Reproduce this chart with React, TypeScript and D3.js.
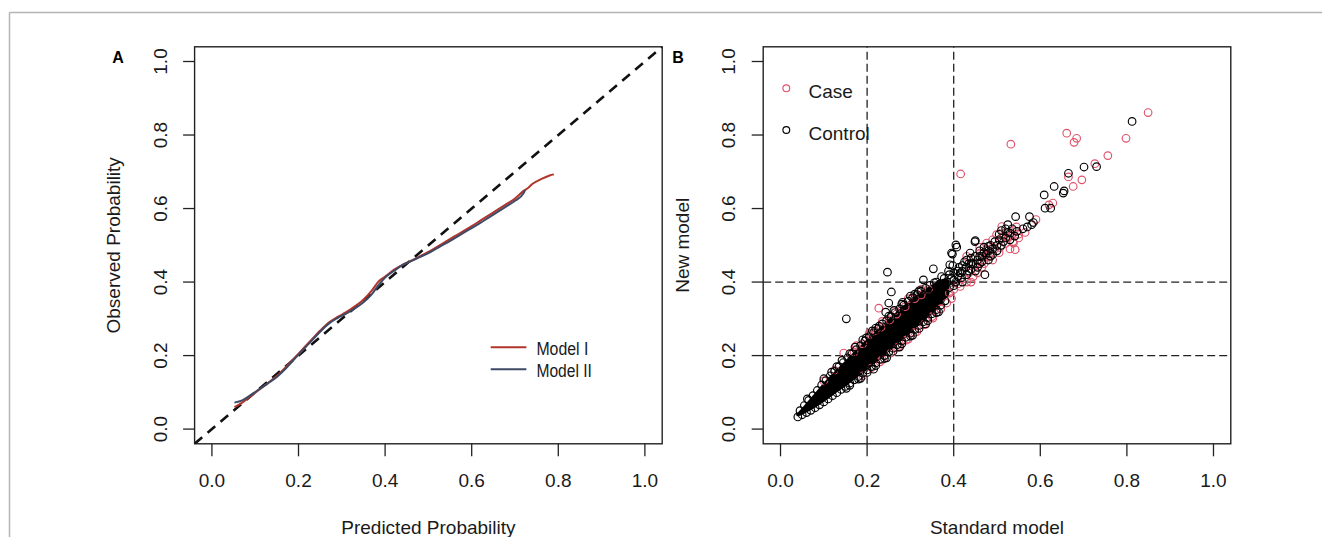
import React from "react";
import * as d3 from "d3";

// ---------- Panel A data (calibration curves) ----------
const modelIX = [0.052, 0.07, 0.09, 0.11, 0.13, 0.15, 0.17, 0.19, 0.21, 0.23, 0.25, 0.27, 0.29, 0.31, 0.33, 0.35, 0.37, 0.385, 0.40, 0.42, 0.44, 0.46, 0.48, 0.50, 0.52, 0.54, 0.56, 0.58, 0.60, 0.62, 0.64, 0.66, 0.68, 0.70, 0.72, 0.73, 0.74, 0.76, 0.78, 0.79];
const modelIY = [0.060, 0.072, 0.090, 0.108, 0.126, 0.145, 0.168, 0.193, 0.218, 0.243, 0.268, 0.290, 0.305, 0.318, 0.334, 0.352, 0.378, 0.402, 0.415, 0.433, 0.447, 0.458, 0.470, 0.482, 0.496, 0.510, 0.524, 0.538, 0.552, 0.567, 0.582, 0.597, 0.612, 0.627, 0.648, 0.656, 0.667, 0.680, 0.690, 0.693];
const modelIIX = [0.052, 0.07, 0.09, 0.11, 0.13, 0.15, 0.17, 0.19, 0.21, 0.23, 0.25, 0.27, 0.29, 0.31, 0.33, 0.35, 0.37, 0.385, 0.40, 0.42, 0.44, 0.46, 0.48, 0.50, 0.52, 0.54, 0.56, 0.58, 0.60, 0.62, 0.64, 0.66, 0.68, 0.70, 0.72, 0.723];
const modelIIY = [0.072, 0.078, 0.093, 0.109, 0.125, 0.142, 0.164, 0.190, 0.215, 0.240, 0.265, 0.287, 0.302, 0.314, 0.328, 0.345, 0.368, 0.392, 0.412, 0.430, 0.446, 0.457, 0.468, 0.479, 0.492, 0.505, 0.519, 0.533, 0.547, 0.561, 0.576, 0.591, 0.606, 0.621, 0.642, 0.650];

const tickValues = [0, 0.2, 0.4, 0.6, 0.8, 1.0];
const tickLabels = ["0.0", "0.2", "0.4", "0.6", "0.8", "1.0"];
const legendA = ["Model I", "Model II"];
const legendB = ["Case", "Control"];

// ---------- Panel B data (reclassification scatter) ----------
// dense, fully overlapping core of the point cloud (centre range per standard-model value)
const coreX = [0.036, 0.04, 0.06, 0.08, 0.10, 0.12, 0.14, 0.16, 0.18, 0.20, 0.22, 0.24, 0.26, 0.28, 0.30, 0.32, 0.34, 0.36, 0.38, 0.39];
const coreLo = [0.038, 0.035, 0.045, 0.058, 0.074, 0.091, 0.108, 0.125, 0.143, 0.161, 0.180, 0.200, 0.220, 0.240, 0.261, 0.282, 0.303, 0.325, 0.349, 0.370];
const coreHi = [0.040, 0.045, 0.072, 0.099, 0.127, 0.151, 0.175, 0.199, 0.222, 0.245, 0.267, 0.290, 0.311, 0.332, 0.352, 0.370, 0.386, 0.400, 0.410, 0.405];

const controlEdge: [number, number][] = [
  [0.045, 0.050], [0.055, 0.064], [0.065, 0.078], [0.075, 0.091], [0.085, 0.105], [0.095, 0.120], [0.105, 0.132], [0.115, 0.145], [0.125, 0.157], [0.135, 0.170], [0.145, 0.181], [0.155, 0.194], [0.165, 0.205], [0.175, 0.216], [0.185, 0.227], [0.195, 0.240], [0.205, 0.251], [0.215, 0.262], [0.225, 0.273], [0.235, 0.286], [0.245, 0.295], [0.255, 0.306], [0.265, 0.317], [0.275, 0.327], [0.285, 0.337], [0.295, 0.348], [0.305, 0.357], [0.315, 0.366], [0.325, 0.375], [0.335, 0.383], [0.345, 0.391], [0.355, 0.398],
  [0.040, 0.033], [0.050, 0.039], [0.060, 0.045], [0.070, 0.051], [0.080, 0.058], [0.090, 0.066], [0.100, 0.074], [0.110, 0.082], [0.120, 0.091], [0.130, 0.099], [0.140, 0.108], [0.150, 0.116], [0.160, 0.125], [0.170, 0.134], [0.180, 0.143], [0.190, 0.152], [0.200, 0.161], [0.210, 0.170], [0.220, 0.180], [0.230, 0.190], [0.240, 0.200], [0.250, 0.210], [0.260, 0.220], [0.270, 0.230], [0.280, 0.240], [0.290, 0.250], [0.300, 0.261], [0.310, 0.271], [0.320, 0.282], [0.330, 0.292], [0.340, 0.303], [0.350, 0.314], [0.360, 0.325], [0.370, 0.337], [0.380, 0.349],
  [0.062, 0.082], [0.118, 0.155], [0.142, 0.187], [0.172, 0.223], [0.198, 0.248], [0.212, 0.267], [0.228, 0.280], [0.262, 0.323], [0.282, 0.345], [0.300, 0.362], [0.318, 0.373], [0.152, 0.111], [0.185, 0.138], [0.215, 0.163], [0.245, 0.194], [0.275, 0.223], [0.305, 0.255], [0.335, 0.286], [0.365, 0.319],
  [0.160, 0.119], [0.180, 0.136], [0.200, 0.154], [0.220, 0.173], [0.240, 0.192], [0.260, 0.212], [0.280, 0.232], [0.300, 0.253], [0.320, 0.274], [0.340, 0.295], [0.360, 0.317],
  [0.100, 0.137], [0.130, 0.170], [0.160, 0.205], [0.190, 0.243], [0.220, 0.275], [0.250, 0.307], [0.280, 0.340], [0.310, 0.367],
];
const caseEdge: [number, number][] = [
  [0.146, 0.207], [0.227, 0.329], [0.190, 0.232], [0.205, 0.257], [0.218, 0.267], [0.232, 0.277], [0.252, 0.297], [0.268, 0.313], [0.288, 0.333], [0.310, 0.355], [0.325, 0.365], [0.342, 0.380], [0.255, 0.207], [0.275, 0.225], [0.295, 0.245], [0.315, 0.265], [0.335, 0.285], [0.352, 0.302], [0.370, 0.327], [0.384, 0.343], [0.395, 0.355], [0.415, 0.388], [0.430, 0.400], [0.445, 0.415], [0.210, 0.167], [0.235, 0.189], [0.170, 0.210], [0.125, 0.160], [0.100, 0.131],
  [0.190, 0.145], [0.230, 0.183], [0.270, 0.222], [0.290, 0.242], [0.310, 0.263], [0.330, 0.284], [0.350, 0.306], [0.370, 0.327],
  [0.175, 0.227], [0.205, 0.261], [0.235, 0.293], [0.265, 0.323], [0.295, 0.355], [0.325, 0.380],
];
const controlSparse: [number, number][] = [
  [0.353, 0.436], [0.391, 0.447], [0.397, 0.476], [0.407, 0.495], [0.438, 0.479], [0.450, 0.513], [0.395, 0.479], [0.405, 0.501], [0.449, 0.510], [0.472, 0.420], [0.330, 0.406], [0.321, 0.377], [0.360, 0.400], [0.372, 0.415], [0.380, 0.390], [0.390, 0.420], [0.400, 0.405], [0.410, 0.430], [0.418, 0.412], [0.420, 0.445], [0.430, 0.460], [0.435, 0.430], [0.440, 0.450], [0.455, 0.440], [0.460, 0.470], [0.465, 0.455], [0.470, 0.480], [0.480, 0.497], [0.485, 0.470], [0.490, 0.490], [0.500, 0.500], [0.505, 0.515], [0.510, 0.540], [0.520, 0.520], [0.530, 0.533], [0.541, 0.525], [0.546, 0.538], [0.525, 0.556], [0.543, 0.578], [0.575, 0.578], [0.584, 0.562], [0.580, 0.556], [0.560, 0.545], [0.570, 0.550], [0.609, 0.637], [0.611, 0.601], [0.624, 0.601], [0.632, 0.660], [0.653, 0.642], [0.655, 0.648], [0.665, 0.696], [0.701, 0.713], [0.730, 0.714], [0.812, 0.837], [0.247, 0.427], [0.256, 0.373], [0.250, 0.343], [0.243, 0.318], [0.152, 0.300],
  [0.360, 0.350], [0.365, 0.370], [0.370, 0.360], [0.375, 0.385], [0.380, 0.370], [0.385, 0.400], [0.390, 0.385], [0.395, 0.410], [0.400, 0.390], [0.400, 0.425], [0.405, 0.400], [0.410, 0.415], [0.412, 0.440], [0.415, 0.425], [0.420, 0.400], [0.420, 0.430], [0.425, 0.455], [0.428, 0.440], [0.430, 0.420], [0.435, 0.450], [0.440, 0.435], [0.440, 0.465], [0.445, 0.450], [0.450, 0.430], [0.450, 0.470], [0.455, 0.460], [0.460, 0.450], [0.460, 0.485], [0.465, 0.470], [0.470, 0.495], [0.475, 0.475], [0.480, 0.460], [0.480, 0.485], [0.485, 0.500], [0.490, 0.475], [0.495, 0.510], [0.500, 0.485], [0.505, 0.530], [0.510, 0.500], [0.515, 0.510], [0.520, 0.545], [0.525, 0.535], [0.530, 0.515], [0.535, 0.545], [0.355, 0.365], [0.345, 0.360], [0.368, 0.395], [0.378, 0.410], [0.388, 0.430], [0.398, 0.445],
];
const caseSparse: [number, number][] = [
  [0.511, 0.551], [0.499, 0.529], [0.538, 0.506], [0.542, 0.488], [0.476, 0.506], [0.461, 0.479], [0.515, 0.524], [0.525, 0.520], [0.484, 0.479], [0.507, 0.494], [0.537, 0.510], [0.470, 0.460], [0.456, 0.450], [0.520, 0.535], [0.530, 0.490], [0.550, 0.520], [0.565, 0.535], [0.590, 0.570], [0.629, 0.615], [0.676, 0.660], [0.696, 0.678], [0.665, 0.686], [0.726, 0.722], [0.756, 0.744], [0.798, 0.791], [0.849, 0.861], [0.661, 0.805], [0.684, 0.791], [0.678, 0.780], [0.532, 0.775], [0.416, 0.694], [0.620, 0.610], [0.490, 0.515],
  [0.390, 0.370], [0.400, 0.380], [0.410, 0.395], [0.425, 0.410], [0.435, 0.425], [0.440, 0.400], [0.450, 0.445], [0.455, 0.425], [0.465, 0.440], [0.470, 0.450], [0.480, 0.470], [0.490, 0.460], [0.495, 0.490], [0.505, 0.480], [0.510, 0.520], [0.520, 0.505], [0.530, 0.525], [0.540, 0.540], [0.545, 0.550], [0.550, 0.530], [0.430, 0.470], [0.460, 0.495], [0.475, 0.490],
];

const refLines = [0.2, 0.4];

const FONT = "'Liberation Sans', Arial, Helvetica, sans-serif";
const RED_LINE = "#B2352C";
const BLUE_LINE = "#3E4A66";
const CASE_COL = "#DF536B";

const DOMAIN: [number, number] = [-0.04, 1.04];
const yScale = d3.scaleLinear().domain(DOMAIN).range([443.8, 46.8]);
const xA = d3.scaleLinear().domain(DOMAIN).range([194.6, 662.2]);
const xB = d3.scaleLinear().domain(DOMAIN).range([763.2, 1230.8]);

function Axes({ x, title, ytitle, titleX }: { x: d3.ScaleLinear<number, number>; title: string; ytitle: string; titleX: number }) {
  const [x0, x1] = x.range();
  const [y0, y1] = yScale.range();
  return (
    <g fontFamily={FONT} fill="#1a1a1a">
      <rect x={x0} y={y1} width={x1 - x0} height={y0 - y1} fill="none" stroke="#222" strokeWidth={1.4} />
      {tickValues.map((t, i) => (
        <g key={"x" + i}>
          <line x1={x(t)} x2={x(t)} y1={y0} y2={y0 + 12.5} stroke="#222" strokeWidth={1.3} />
          <text x={x(t)} y={486.5} fontSize={19} textAnchor="middle">{tickLabels[i]}</text>
        </g>
      ))}
      {tickValues.map((t, i) => (
        <g key={"y" + i}>
          <line x1={x0 - 11.5} x2={x0} y1={yScale(t)} y2={yScale(t)} stroke="#222" strokeWidth={1.3} />
          <text transform={`translate(${x0 - 28},${yScale(t)}) rotate(-90)`} fontSize={19} textAnchor="middle">{tickLabels[i]}</text>
        </g>
      ))}
      <text x={(x0 + x1) / 2} y={533.5} fontSize={19} textAnchor="middle">{title}</text>
      <text transform={`translate(${titleX},${(y0 + y1) / 2}) rotate(-90)`} fontSize={19} textAnchor="middle">{ytitle}</text>
    </g>
  );
}

export default function App() {
  const line = (x: d3.ScaleLinear<number, number>) =>
    d3.line<[number, number]>().x((d) => x(d[0])).y((d) => yScale(d[1])).curve(d3.curveMonotoneX);
  const mI: [number, number][] = modelIX.map((v, i) => [v, modelIY[i]]);
  const mII: [number, number][] = modelIIX.map((v, i) => [v, modelIIY[i]]);
  const coreArea = d3
    .area<number>()
    .x((d, i) => xB(coreX[i]))
    .y0((d, i) => yScale(coreLo[i]))
    .y1((d, i) => yScale(coreHi[i]))
    .curve(d3.curveMonotoneX);
  const R = 3.8;
  const pts = (arr: [number, number][], col: string, key: string) =>
    arr.map((d, i) => (
      <circle key={key + i} cx={xB(d[0])} cy={yScale(d[1])} r={R} fill="none" stroke={col} strokeWidth={1.15} />
    ));
  const [bx0, bx1] = xB.range();
  const [by0, by1] = yScale.range();
  return (
    <svg width={1322} height={537} style={{ position: "absolute", left: 0, top: 0, background: "#fff" }}>
      <defs>
        <clipPath id="clipA"><rect x={xA.range()[0]} y={by1} width={xA.range()[1] - xA.range()[0]} height={by0 - by1} /></clipPath>
      </defs>
      {/* outer frame of the figure */}
      <line x1={9.5} x2={1322} y1={12.5} y2={12.5} stroke="#b4b4b4" strokeWidth={1.5} />
      <line x1={9.5} x2={9.5} y1={12.5} y2={537} stroke="#b4b4b4" strokeWidth={1.5} />

      {/* Panel A */}
      <Axes x={xA} title="Predicted Probability" ytitle="Observed Probability" titleX={120} />
      <g clipPath="url(#clipA)">
        <line x1={xA(-0.04)} y1={yScale(-0.04)} x2={xA(1.04)} y2={yScale(1.04)} stroke="#111" strokeWidth={2.6} strokeDasharray="10,7" />
      </g>
      <path d={line(xA)(mI) || ""} fill="none" stroke={RED_LINE} strokeWidth={2} />
      <path d={line(xA)(mII) || ""} fill="none" stroke={BLUE_LINE} strokeWidth={2} />
      <g fontFamily={FONT} fontSize={18} fill="#1a1a1a">
        <line x1={490.7} x2={526.4} y1={347.3} y2={347.3} stroke={RED_LINE} strokeWidth={2} />
        <line x1={490.7} x2={526.4} y1={369.3} y2={369.3} stroke={BLUE_LINE} strokeWidth={2} />
        <text x={536.4} y={355} textLength={52} lengthAdjust="spacingAndGlyphs">{legendA[0]}</text>
        <text x={536.4} y={377.3} textLength={55.5} lengthAdjust="spacingAndGlyphs">{legendA[1]}</text>
      </g>
      <text x={118} y={63.3} fontFamily={FONT} fontWeight="bold" fontSize={16} textAnchor="middle">A</text>

      {/* Panel B */}
      <Axes x={xB} title="Standard model" ytitle="New model" titleX={688.5} />
      {refLines.map((v, i) => (
        <g key={"ref" + i}>
          <line x1={xB(v)} x2={xB(v)} y1={by0} y2={by1} stroke="#222" strokeWidth={1.3} strokeDasharray="8,4" />
          <line x1={bx0} x2={bx1} y1={yScale(v)} y2={yScale(v)} stroke="#222" strokeWidth={1.3} strokeDasharray="8,4" />
        </g>
      ))}
      <path d={coreArea(coreX) || ""} fill="#000" />
      {pts(caseEdge, CASE_COL, "ke")}
      {pts(controlEdge, "#000", "ce")}
      {pts(caseSparse, CASE_COL, "ks")}
      {pts(controlSparse, "#000", "cs")}
      <g fontFamily={FONT} fontSize={19} fill="#1a1a1a">
        <circle cx={786.3} cy={88.3} r={3.4} fill="none" stroke={CASE_COL} strokeWidth={1.15} />
        <circle cx={786.3} cy={130} r={3.4} fill="none" stroke="#000" strokeWidth={1.15} />
        <text x={808.5} y={98}>{legendB[0]}</text>
        <text x={808.5} y={139.7}>{legendB[1]}</text>
      </g>
      <text x={678} y={63.3} fontFamily={FONT} fontWeight="bold" fontSize={16} textAnchor="middle">B</text>
    </svg>
  );
}
